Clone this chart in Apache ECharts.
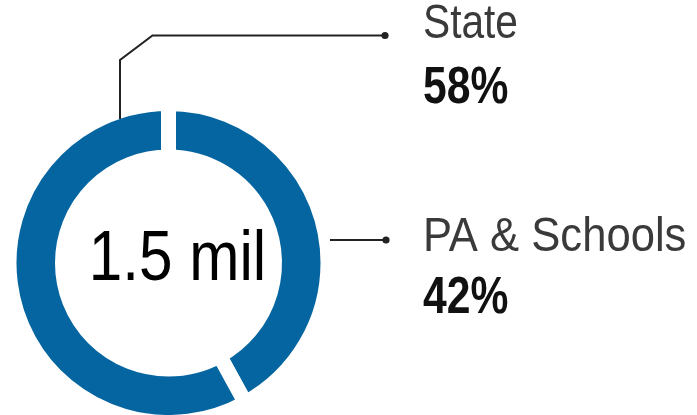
<!DOCTYPE html>
<html><head><meta charset="utf-8">
<script src="https://cdn.jsdelivr.net/npm/echarts@6/dist/echarts.min.js"></script>
<style>html,body{margin:0;padding:0;background:#fff}#c{width:697px;height:415px}</style>
</head><body><div id="c"></div>
<script>
const categories = ['PA & Schools', 'State'];
const values = [42, 58];
const percentLabels = ['42%', '58%'];
const centerLabel = '1.5 mil';

const FONT = '"Liberation Sans", Arial, sans-serif';
const cx = 168.5, cy = 263, rIn = 113.5, rOut = 152, gap = 15;
const chart = echarts.init(document.getElementById('c'), null, {renderer: 'canvas'});

// layout of annotation texts (styling only)
const labelLayout = {
  'State':        {nameY: 24.5, nameScale: 0.83, pctY: 89, pctScale: 0.82},
  'PA & Schools': {nameY: 237.5, nameScale: 0.89, pctY: 298.5, pctScale: 0.82}
};
const labelX = 423;

const graphics = [];
graphics.push({type: 'polyline', z: 100, shape: {points: [[120, 119], [120, 60], [152.5, 35.5], [385, 35.5]]},
  style: {stroke: '#222', lineWidth: 2, fill: null}});
graphics.push({type: 'circle', z: 100, shape: {cx: 385, cy: 35.5, r: 3.6}, style: {fill: '#222'}});
graphics.push({type: 'polyline', z: 100, shape: {points: [[330, 240], [386, 240]]},
  style: {stroke: '#222', lineWidth: 2, fill: null}});
graphics.push({type: 'circle', z: 100, shape: {cx: 386, cy: 240, r: 3.6}, style: {fill: '#222'}});

categories.forEach((name, i) => {
  const L = labelLayout[name];
  graphics.push({type: 'text', z: 100, x: labelX, y: L.nameY, scaleX: L.nameScale,
    style: {text: name, font: '49px ' + FONT, fill: '#3a3a3a', align: 'left', verticalAlign: 'middle'}});
  graphics.push({type: 'text', z: 100, x: labelX, y: L.pctY, scaleX: L.pctScale,
    style: {text: percentLabels[i], font: 'bold 52px ' + FONT, fill: '#111', align: 'left', verticalAlign: 'middle'}});
});
graphics.push({type: 'text', z: 100, x: 177.5, y: 261, scaleX: 0.86,
  style: {text: centerLabel, font: '70px ' + FONT, fill: '#000', align: 'center', verticalAlign: 'middle'}});

chart.setOption({
  animation: false,
  backgroundColor: '#fff',
  graphic: graphics,
  series: [{
    type: 'pie',
    center: [cx, cy],
    radius: [rIn - gap / 2, rOut + gap / 2],
    startAngle: 90,
    clockwise: true,
    silent: true,
    label: {show: false},
    labelLine: {show: false},
    itemStyle: {color: '#0565a0', borderColor: '#fff', borderWidth: gap},
    data: categories.map((c, i) => ({name: c, value: values[i]}))
  }]
});
</script></body></html>
